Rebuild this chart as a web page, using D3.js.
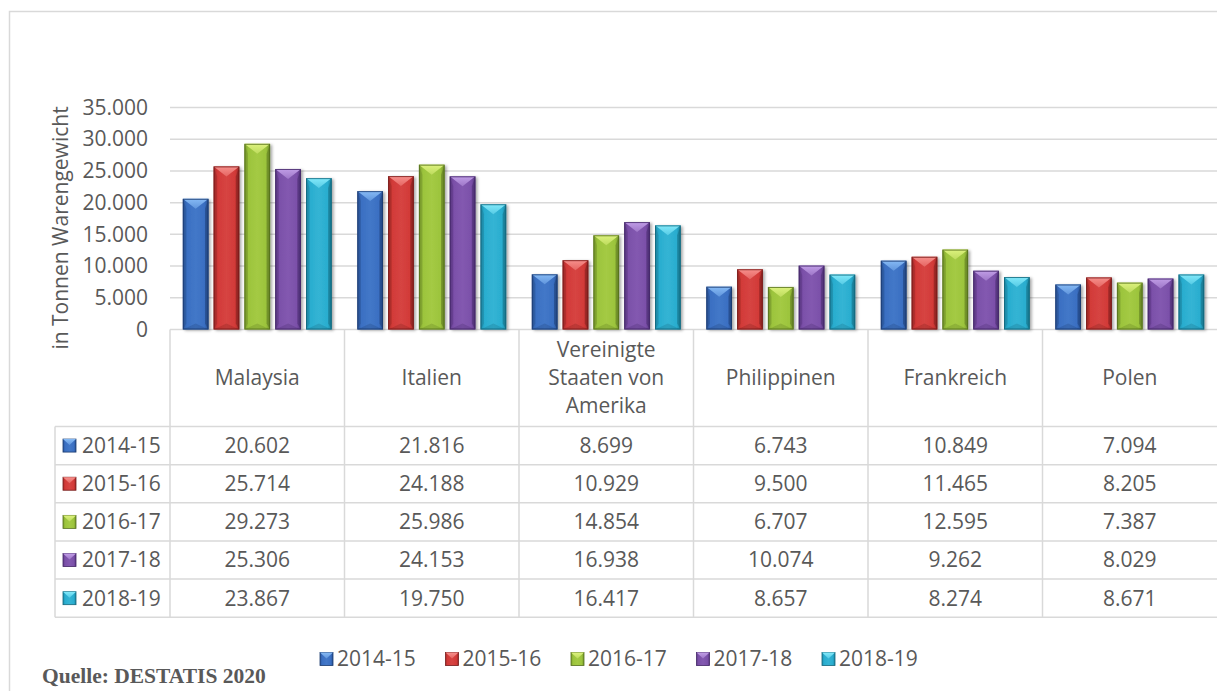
<!DOCTYPE html>
<html lang="de">
<head>
<meta charset="utf-8">
<title>Exporte in Tonnen Warengewicht</title>
<script src="https://cdn.jsdelivr.net/npm/d3@7"></script>
<style>
  html, body { margin: 0; padding: 0; background: #fff; }
  svg { display: block; }
  text { font-family: "Open Sans", "Noto Sans", sans-serif; fill: #595959; }
</style>
</head>
<body>
<svg id="chart" width="1217" height="691"></svg>
<script>
// Ziel- und Herkunftsländer, Wirtschaftsjahre, Mengen in Tonnen
const categories = ["Malaysia", "Italien", "Vereinigte Staaten von Amerika", "Philippinen", "Frankreich", "Polen"];
const seriesNames = ["2014-15", "2015-16", "2016-17", "2017-18", "2018-19"];
const values2014 = [20602, 21816, 8699, 6743, 10849, 7094];
const values2015 = [25714, 24188, 10929, 9500, 11465, 8205];
const values2016 = [29273, 25986, 14854, 6707, 12595, 7387];
const values2017 = [25306, 24153, 16938, 10074, 9262, 8029];
const values2018 = [23867, 19750, 16417, 8657, 8274, 8671];
const yTicks = [0, 5000, 10000, 15000, 20000, 25000, 30000, 35000];
const yTitle = "in Tonnen Warengewicht";
const sourceText = "Quelle: DESTATIS 2020";

const seriesValues = [values2014, values2015, values2016, values2017, values2018];

// Balkenfarben: Grundton, Lichtkante, Schattenkante
const palette = [
  { base: "#3a6fc2", light: "#86baf5", dark: "#1a3a6e" },
  { base: "#d23a38", light: "#f7908c", dark: "#741a19" },
  { base: "#9cc43c", light: "#ddf27e", dark: "#546e1c" },
  { base: "#7b50a9", light: "#c09de6", dark: "#412565" },
  { base: "#29adcf", light: "#82e9fa", dark: "#12657a" }
];

const fmt = d3.formatLocale({ decimal: ",", thousands: ".", grouping: [3], currency: ["", " €"] }).format(",d");

const svg = d3.select("#chart");
const W = 1217;
const FS = "21px";
const plot = { left: 170, right: 1217, top: 107.5, bottom: 329.5 };
const table = { left: 55, headerBottom: 426.5, rowH: 38.15 };
const gridColor = "#d9d9d9";

const defs = svg.append("defs");
const shadow = defs.append("filter").attr("id", "barShadow")
  .attr("x", "-30%").attr("y", "-10%").attr("width", "170%").attr("height", "130%");
shadow.append("feDropShadow").attr("dx", 2).attr("dy", 1).attr("stdDeviation", 1.6)
  .attr("flood-color", "#000").attr("flood-opacity", 0.35);

palette.forEach((c, i) => {
  const g = defs.append("linearGradient").attr("id", "face" + i)
    .attr("x1", 0).attr("x2", 1).attr("y1", 0).attr("y2", 0);
  g.append("stop").attr("offset", 0).attr("stop-color", d3.interpolateRgb(c.base, c.dark)(0.45));
  g.append("stop").attr("offset", 0.16).attr("stop-color", c.base);
  g.append("stop").attr("offset", 0.5).attr("stop-color", d3.interpolateRgb(c.base, c.light)(0.12));
  g.append("stop").attr("offset", 0.84).attr("stop-color", c.base);
  g.append("stop").attr("offset", 1).attr("stop-color", d3.interpolateRgb(c.base, c.dark)(0.6));
  const t = defs.append("linearGradient").attr("id", "cap" + i)
    .attr("x1", 0).attr("x2", 0).attr("y1", 0).attr("y2", 1);
  t.append("stop").attr("offset", 0).attr("stop-color", c.light);
  t.append("stop").attr("offset", 1).attr("stop-color", d3.interpolateRgb(c.light, c.base)(0.5));
});

// Außenrahmen
svg.append("rect").attr("x", 9.5).attr("y", 11.5).attr("width", W).attr("height", 700)
  .attr("fill", "none").attr("stroke", gridColor).attr("stroke-width", 1.5);

const x = d3.scaleBand().domain(categories).range([plot.left, plot.right]).padding(0);
const xs = d3.scaleBand().domain(seriesNames).range([0, x.bandwidth()])
  .paddingInner(0.166).paddingOuter(0.416);
const y = d3.scaleLinear().domain([0, 35000]).range([plot.bottom, plot.top]);

// Gitterlinien
svg.append("g").selectAll("line").data(yTicks).join("line")
  .attr("x1", plot.left).attr("x2", plot.right)
  .attr("y1", d => y(d)).attr("y2", d => y(d))
  .attr("stroke", gridColor).attr("stroke-width", 1.5);

// y-Achse
const yAxis = svg.append("g").attr("transform", `translate(${plot.left - 22},0)`)
  .call(d3.axisLeft(y).tickValues(yTicks).tickFormat(fmt).tickSize(0).tickPadding(0));
yAxis.select(".domain").remove();
yAxis.selectAll("text").style("font-size", FS).attr("fill", "#595959")
  .style("font-family", '"Open Sans", "Noto Sans", sans-serif');

svg.append("text")
  .attr("transform", `translate(68,228) rotate(-90)`)
  .attr("text-anchor", "middle").style("font-size", FS).text(yTitle);

// Balken mit Abschrägung
function drawBevelBar(g, bx, by, bw, bh, ci) {
  const c = palette[ci];
  const capH = Math.min(10, bh / 2);
  const side = 3.5;
  g.append("rect").attr("x", bx).attr("y", by).attr("width", bw).attr("height", bh)
    .attr("fill", `url(#face${ci})`).attr("filter", "url(#barShadow)");
  // linke und rechte Fase
  g.append("path").attr("d", `M${bx},${by} L${bx + side},${by + capH} L${bx + side},${by + bh - capH * 0.6} L${bx},${by + bh} Z`)
    .attr("fill", c.dark).attr("opacity", 0.25);
  g.append("path").attr("d", `M${bx + bw},${by} L${bx + bw - side},${by + capH} L${bx + bw - side},${by + bh - capH * 0.6} L${bx + bw},${by + bh} Z`)
    .attr("fill", c.dark).attr("opacity", 0.45);
  // untere Fase
  g.append("path").attr("d", `M${bx},${by + bh} L${bx + bw / 2},${by + bh - capH * 0.6} L${bx + bw},${by + bh} Z`)
    .attr("fill", c.dark).attr("opacity", 0.25);
  // obere Lichtkante
  g.append("path").attr("d", `M${bx},${by} L${bx + bw},${by} L${bx + bw / 2},${by + capH} Z`)
    .attr("fill", `url(#cap${ci})`);
  g.append("rect").attr("x", bx + 0.5).attr("y", by + 0.5).attr("width", bw - 1).attr("height", bh - 1)
    .attr("fill", "none").attr("stroke", c.dark).attr("stroke-width", 1).attr("opacity", 0.8);
}

const bars = svg.append("g");
categories.forEach((cat, ci) => {
  seriesNames.forEach((s, si) => {
    const v = seriesValues[si][ci];
    const bx = x(cat) + xs(s);
    drawBevelBar(bars, bx, y(v), xs.bandwidth(), y(0) - y(v), si);
  });
});

// Datentabelle
const rowsTop = table.headerBottom;
const rowsBottom = rowsTop + table.rowH * seriesNames.length;
const tg = svg.append("g");
// waagrechte Linien
d3.range(seriesNames.length + 1).forEach(i => {
  const yy = rowsTop + i * table.rowH;
  tg.append("line").attr("x1", table.left).attr("x2", W).attr("y1", yy).attr("y2", yy)
    .attr("stroke", gridColor).attr("stroke-width", 1.5);
});
// senkrechte Linien
tg.append("line").attr("x1", table.left).attr("x2", table.left).attr("y1", rowsTop).attr("y2", rowsBottom)
  .attr("stroke", gridColor).attr("stroke-width", 1.5);
categories.forEach(cat => {
  tg.append("line").attr("x1", x(cat)).attr("x2", x(cat)).attr("y1", plot.bottom).attr("y2", rowsBottom)
    .attr("stroke", gridColor).attr("stroke-width", 1.5);
});

// Kategorienamen im Kopf, mit Zeilenumbruch
const headerMid = (plot.bottom + rowsTop) / 2;
categories.forEach(cat => {
  const t = tg.append("text").attr("text-anchor", "middle").style("font-size", FS)
    .attr("x", x(cat) + x.bandwidth() / 2);
  const words = cat.split(" ");
  const lines = [];
  let line = [];
  const probe = tg.append("text").style("font-size", FS);
  words.forEach(w => {
    const trial = line.concat([w]).join(" ");
    probe.text(trial);
    if (line.length && probe.node().getComputedTextLength() > 145) {
      lines.push(line.join(" "));
      line = [w];
    } else {
      line.push(w);
    }
  });
  lines.push(line.join(" "));
  probe.remove();
  const lh = 28;
  lines.forEach((l, i) => {
    t.append("tspan").attr("x", x(cat) + x.bandwidth() / 2)
      .attr("y", headerMid + (i - (lines.length - 1) / 2) * lh)
      .attr("dy", "0.35em").text(l);
  });
});

// kleine Legendensymbole
function drawKey(g, kx, ky, ci) {
  const c = palette[ci];
  const s = 13;
  g.append("rect").attr("x", kx).attr("y", ky).attr("width", s).attr("height", s)
    .attr("fill", `url(#face${ci})`).attr("stroke", c.dark).attr("stroke-width", 0.8);
  g.append("path").attr("d", `M${kx},${ky} L${kx + s},${ky} L${kx + s / 2},${ky + 6} Z`)
    .attr("fill", `url(#cap${ci})`);
}

// Zeilen mit Werten
seriesNames.forEach((s, si) => {
  const cy = rowsTop + (si + 0.5) * table.rowH;
  drawKey(tg, 63, cy - 6.5, si);
  tg.append("text").attr("x", 82).attr("y", cy).attr("dy", "0.35em")
    .style("font-size", FS).text(s);
  categories.forEach((cat, ci) => {
    tg.append("text").attr("x", x(cat) + x.bandwidth() / 2).attr("y", cy).attr("dy", "0.35em")
      .attr("text-anchor", "middle").style("font-size", FS).text(fmt(seriesValues[si][ci]));
  });
});

// Legende unten
const lg = svg.append("g");
seriesNames.forEach((s, si) => {
  const lx = 320 + si * 125.5;
  drawKey(lg, lx, 652.5, si);
  lg.append("text").attr("x", lx + 17).attr("y", 659).attr("dy", "0.35em")
    .style("font-size", FS).text(s);
});

// Quellenangabe
svg.append("text").attr("x", 42).attr("y", 683)
  .style("font-family", '"Liberation Serif", "Times New Roman", serif')
  .style("font-weight", "bold").style("font-size", "21.5px").attr("fill", "#595959")
  .text(sourceText);
</script>
</body>
</html>
